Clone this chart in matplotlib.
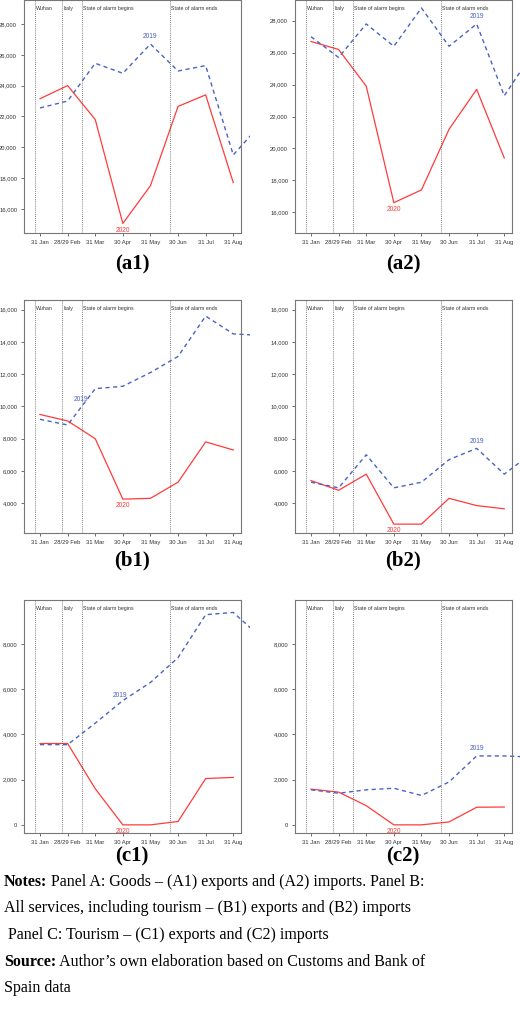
import matplotlib.pyplot as plt
from matplotlib.patches import Rectangle
from matplotlib.ticker import FuncFormatter

months = ['31 Jan', '28/29 Feb', '31 Mar', '30 Apr', '31 May', '30 Jun', '31 Jul', '31 Aug']
events = ['Wuhan', 'Italy', 'State of alarm begins', 'State of alarm ends']
event_pos = [-0.18, 0.8, 1.52, 4.7]

a1_2020 = [23150, 24000, 21800, 15050, 17500, 22650, 23400, 17700]
a1_2019 = [22550, 23000, 25450, 24800, 26700, 24950, 25300, 19500, 21500]
a2_2020 = [26700, 26200, 23900, 16600, 17400, 21200, 23700, 19400]
a2_2019 = [27000, 25700, 27800, 26400, 28800, 26400, 27800, 23300, 25900]
b1_2020 = [9500, 9100, 8000, 4250, 4300, 5300, 7800, 7300]
b1_2019 = [9200, 8850, 11100, 11250, 12100, 13100, 15600, 14500, 14400]
b2_2020 = [5400, 4800, 5800, 2700, 2700, 4300, 3850, 3650]
b2_2019 = [5300, 4950, 7000, 4950, 5300, 6700, 7400, 5800, 7100]
c1_2020 = [3600, 3600, 1600, 0, 0, 150, 2050, 2100]
c1_2019 = [3550, 3550, 4500, 5500, 6300, 7400, 9300, 9400, 8300]
c2_2020 = [1580, 1450, 850, 0, 0, 130, 780, 790]
c2_2019 = [1550, 1400, 1550, 1620, 1300, 1900, 3050, 3050, 3000]

W, H = 520, 1011
fig = plt.figure(figsize=(W / 100, H / 100), dpi=100)

panels = [
    ('(a1)', a1_2020, a1_2019, (14430, 29560), range(16000, 28001, 2000), 24, 0, 4, 3, 264),
    ('(a2)', a2_2020, a2_2019, (14700, 29300), range(16000, 28001, 2000), 295, 0, 6, 3, 264),
    ('(b1)', b1_2020, b1_2019, (2150, 16600), range(4000, 16001, 2000), 24, 300, 1.5, 3, 560),
    ('(b2)', b2_2020, b2_2019, (2150, 16600), range(4000, 16001, 2000), 295, 300, 6, 3, 560),
    ('(c1)', c1_2020, c1_2019, (-360, 9950), range(0, 8001, 2000), 24, 600, 2.9, 3, 856),
    ('(c2)', c2_2020, c2_2019, (-360, 9950), range(0, 8001, 2000), 295, 600, 6, 3, 856),
]

for name, s20, s19, ylim, ticks, x0, y0, lab19, lab20, ylab in panels:
    ax = fig.add_axes([x0 / W, 1 - (y0 + 233) / H, 217 / W, 233 / H])
    ax.plot(range(len(s20)), s20, color='#ff3b3b', lw=0.9)
    line, = ax.plot(range(len(s19)), s19, color='#4a62c4', lw=1.0, ls=(0, (3, 2.5)))
    line.set_clip_path(Rectangle((0, 0), 1.04, 1, transform=ax.transAxes))
    for p, ev in zip(event_pos, events):
        ax.axvline(p, color='#555555', lw=0.6, ls=(0, (1, 1.5)))
        ax.text(p + 0.05, 0.975, ev, transform=ax.get_xaxis_transform(),
                fontsize=3.8, va='top', color='#333333', family='Liberation Sans')
    i19 = int(lab19)
    y19 = s19[i19] + (s19[i19 + 1] - s19[i19]) * (lab19 % 1)
    ax.annotate('2019', (lab19, y19), xytext=(0, 4), textcoords='offset points',
                ha='center', fontsize=4.8, color='#4a62c4', family='Liberation Sans')
    ax.annotate('2020', (lab20, s20[lab20]), xytext=(0, -6), textcoords='offset points',
                ha='center', fontsize=4.8, color='#ff3b3b', family='Liberation Sans')
    ax.set_xlim(-0.58, 7.28)
    ax.set_ylim(*ylim)
    ax.set_xticks(range(8))
    ax.set_xticklabels(months)
    ax.set_yticks(list(ticks))
    ax.yaxis.set_major_formatter(FuncFormatter(lambda v, _: f'{v:,.0f}'))
    ax.tick_params(labelsize=4.2, length=2, width=0.5, pad=3, colors='#333333')
    for lbl in ax.get_xticklabels() + ax.get_yticklabels():
        lbl.set_family('Liberation Sans')
    for sp in ax.spines.values():
        sp.set_linewidth(0.8)
        sp.set_color('#777777')
    fig.text((x0 + 108) / W, 1 - ylab / H, name, ha='center', va='center',
             fontsize=15, fontweight='bold', family='Liberation Serif')

notes = [
    ('Notes:', ' Panel A: Goods – (A1) exports and (A2) imports. Panel B:'),
    ('', 'All services, including tourism – (B1) exports and (B2) imports'),
    ('', ' Panel C: Tourism – (C1) exports and (C2) imports'),
    ('Source:', ' Author’s own elaboration based on Customs and Bank of'),
    ('', 'Spain data'),
]
renderer = fig.canvas.get_renderer()
for i, (bold, rest) in enumerate(notes):
    y = 1 - (882 + i * 26.5) / H
    x = 4 / W
    if bold:
        t = fig.text(x, y, bold, fontsize=11.5, fontweight='bold',
                     family='Liberation Serif', va='center')
        x += t.get_window_extent(renderer).width / W
    fig.text(x, y, rest, fontsize=11.5, family='Liberation Serif', va='center')

fig.savefig('out.png', dpi=100)
